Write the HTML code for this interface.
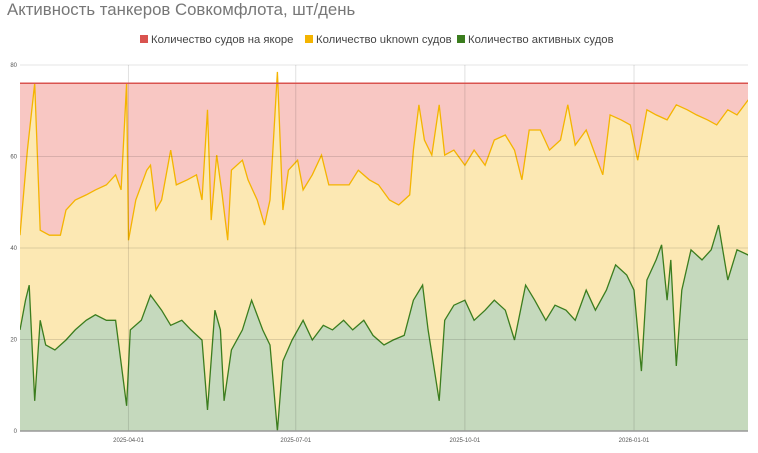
<!DOCTYPE html>
<html><head><meta charset="utf-8"><style>
body{margin:0;background:#fff;font-family:"Liberation Sans","Noto Sans CJK SC",sans-serif}
#wrap{position:relative;width:758px;height:453px;overflow:hidden}
</style></head><body>
<div id="wrap">
<svg id="svg" width="758" height="453"></svg>
</div>
<script>
const xTickLabels=["2025-04-01","2025-07-01","2025-10-01","2026-01-01"];
const xTickDays=[59,150,242,334];
const yTicks=[0,20,40,60,80];
const anchorLevel=76;
const unkDays=[0,4,8,11,16,22,25,30,36,41,47,52,55,58,59,63,69,71,74,77,82,85,91,96,99,102,104,107,110,113,115,121,124,129,133,136,140,143,146,151,154,159,164,168,173,179,184,190,195,201,206,212,214,217,220,224,228,231,236,242,247,253,258,264,269,273,277,283,288,294,298,302,308,313,317,321,327,332,336,341,346,352,357,363,368,374,379,385,390,396,400];
const unkVals=[42.8,61.4,76,43.9,42.8,42.8,48.3,50.5,51.6,52.7,53.8,56,52.7,76,41.7,50.5,57,58.1,48.3,50.5,61.4,53.8,54.9,56,50.5,70.2,46.1,60.3,51.6,41.7,57,59.2,54.9,50.5,45,50.5,78.5,48.3,57,59.2,52.7,56,60.3,53.8,53.8,53.8,57,54.9,53.8,50.5,49.4,51.6,61.4,71.3,63.6,60.3,71.3,60.3,61.4,58.1,61.4,58.1,63.6,64.7,61.4,54.9,65.8,65.8,61.4,63.6,71.3,62.5,65.8,60.3,56,69.1,68,66.9,59.2,70.2,69.1,68,71.3,70.2,69.1,68,66.9,70.2,69.1,72.3,73.4];
const actDays=[0,3,5,8,11,14,19,25,30,36,41,47,52,58,60,66,71,77,82,88,93,99,102,106,109,111,115,121,126,132,136,140,143,148,154,159,165,170,176,181,187,192,198,203,209,214,219,222,228,231,236,242,247,253,258,264,269,275,280,286,291,297,302,308,313,319,324,330,334,338,341,346,349,352,354,357,360,365,371,376,380,385,390,396,400];
const actVals=[22.1,28.6,31.9,6.6,24.2,18.8,17.7,19.9,22.1,24.2,25.4,24.2,24.2,5.5,22.1,24.2,29.7,26.4,23.1,24.2,22.1,19.9,4.6,26.4,22.1,6.6,17.7,22.1,28.6,22.1,18.8,0,15.3,19.9,24.2,19.9,23.1,22.1,24.2,22.1,24.2,20.9,18.8,19.9,20.9,28.6,31.9,22.1,6.6,24.2,27.5,28.6,24.2,26.4,28.6,26.4,19.9,31.9,28.6,24.2,27.5,26.4,24.2,30.8,26.4,30.8,36.3,34.1,30.8,13.1,33,37.4,40.7,28.6,37.4,14.2,30.8,39.6,37.4,39.6,45,33,39.6,38.5,36.3];

const NS="http://www.w3.org/2000/svg";
const svg=document.getElementById('svg');
const X0=20,X1=748,Y0=431,Y1=65,DMAX=396;
const xs=d=>X0+d*(X1-X0)/DMAX;
const ys=v=>Y0-v*(Y0-Y1)/80;
function el(t,a,txt,p){const e=document.createElementNS(NS,t);for(const k in a)e.setAttribute(k,a[k]);if(txt!==undefined)e.textContent=txt;(p||svg).appendChild(e);return e;}

let e;
const defs=el('defs',{});
const cp=el('clipPath',{id:'plotclip'},undefined,defs);
el('rect',{x:X0,y:0,width:X1-X0,height:Y0+1},undefined,cp);

e=el('text',{x:7,y:15,'font-size':16.8,fill:'#777'},'Активность танкеров Совкомфлота, шт/день');



const legend=[["#d9534f","Количество судов на якоре",140],["#f4b400","Количество uknown судов",305],["#3b7d1e","Количество активных судов",457]];
legend.forEach(l=>{
 e=el('rect',{x:l[2],y:35,width:8,height:8,fill:l[0]});
 
 
 e=el('text',{x:l[2]+11,y:43,'font-size':11.3,fill:'#444'},l[1]);
 
 
});

const g=el('g',{'clip-path':'url(#plotclip)'});



e=el('rect',{x:X0,y:ys(anchorLevel),width:X1-X0,height:Y0-ys(anchorLevel),fill:'#f8c7c3'},undefined,g);



function pts(D,V){return D.map((d,i)=>xs(d).toFixed(1)+','+ys(V[i]).toFixed(1)).join(' ');}
let up=pts(unkDays,unkVals);
e=el('polygon',{points:X0+','+Y0+' '+up+' '+xs(unkDays[unkDays.length-1])+','+Y0,fill:'#fce8b3'},undefined,g);


let ap=pts(actDays,actVals);
e=el('polygon',{points:X0+','+Y0+' '+ap+' '+xs(actDays[actDays.length-1])+','+Y0,fill:'#c5d9bd'},undefined,g);



yTicks.forEach(v=>{
 if(v>0){e=el('line',{x1:X0,x2:X1,y1:ys(v),y2:ys(v),stroke:v==80?'#e4e4e4':'rgba(0,0,0,0.12)','stroke-width':1});
 
 }
 e=el('text',{x:17,y:ys(v)+2,'font-size':6,fill:'#555','text-anchor':'end'},String(v));
 
 
});
xTickDays.forEach((d,i)=>{
 e=el('line',{x1:xs(d),x2:xs(d),y1:Y1,y2:Y0,stroke:'rgba(0,0,0,0.12)','stroke-width':1});
 
 
 e=el('text',{x:xs(d),y:442,'font-size':6,fill:'#555','text-anchor':'middle'},xTickLabels[i]);
 
 
});

e=el('line',{x1:X0,x2:X1,y1:ys(anchorLevel),y2:ys(anchorLevel),stroke:'#d9534f','stroke-width':1.5});


e=el('polyline',{points:up,fill:'none',stroke:'#f4b400','stroke-width':1.3},undefined,g);


e=el('polyline',{points:ap,fill:'none',stroke:'#3b7d1e','stroke-width':1.3},undefined,g);


e=el('line',{x1:X0,x2:X1,y1:Y0,y2:Y0,stroke:'#999','stroke-width':1.5});


</script>
</body></html>
